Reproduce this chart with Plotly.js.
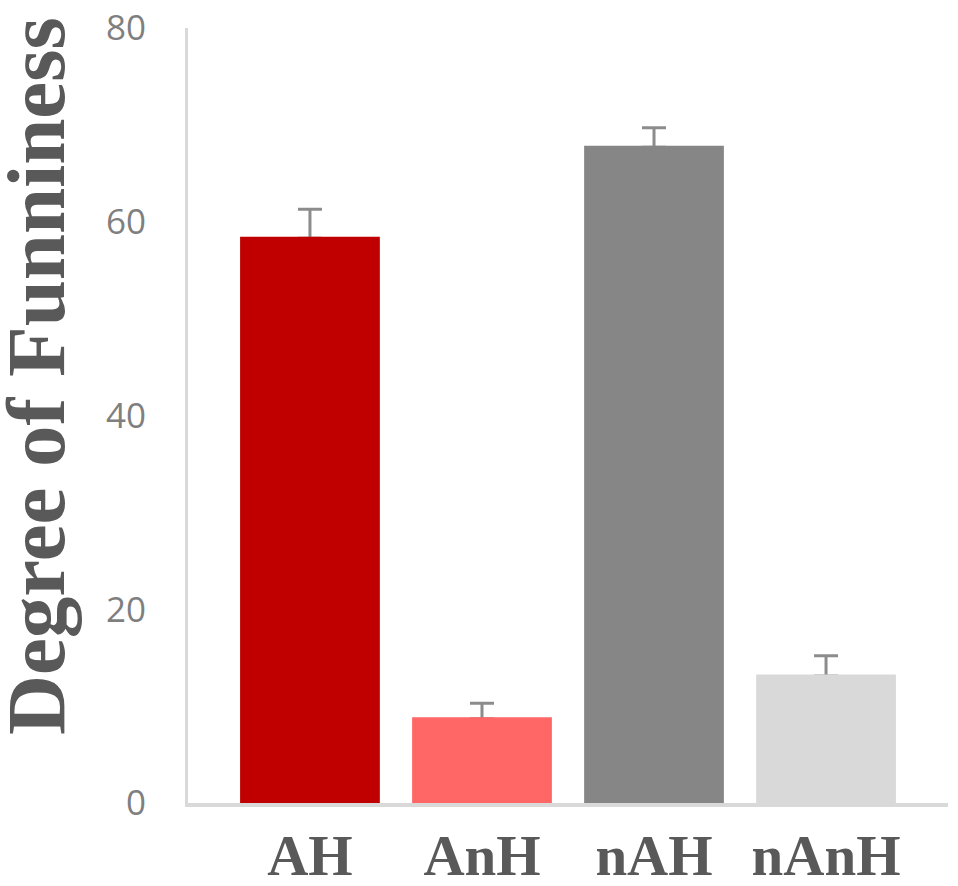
<!DOCTYPE html>
<html>
<head>
<meta charset="utf-8">
<script src="https://cdn.plot.ly/plotly-3.0.1.min.js"></script>
<style>
  html, body { margin: 0; padding: 0; background: #fff; }
  #graph { width: 958px; height: 886px; }
</style>
</head>
<body>
<div id="graph"></div>
<script>
// conditions and their mean funniness ratings
var categories = ['AH', 'AnH', 'nAH', 'nAnH'];
var means = [58.3, 8.7, 67.7, 13.1];
var errors = [3.0, 1.6, 2.0, 2.1];
var barColors = ['#c00000', '#ff6666', '#868686', '#d9d9d9'];
var yTicks = [0, 20, 40, 60, 80];

var serif = 'Times New Roman, Liberation Serif, Times, serif';

function init_plot() {
    // first trace only carries the error bars, the coloured bars sit on top
    // so the lower cap of each whisker is hidden (only the upper one shows)
    const whiskers = {
        x: categories,
        y: means,
        type: 'bar',
        width: 0.795,
        marker: { color: 'rgba(0,0,0,0)', line: { width: 0 } },
        error_y: {
            type: 'data',
            symmetric: false,
            array: errors,
            arrayminus: categories.map(function () { return 0; }),
            color: '#8c8c8c',
            thickness: 3,
            width: 12
        },
        hoverinfo: 'skip'
    };

    // outline in the bar colour covers the half of the lower cap that pokes out
    const bars = {
        x: categories,
        y: means,
        type: 'bar',
        width: 0.795,
        marker: { color: barColors, line: { color: barColors, width: 3 } },
        hoverinfo: 'x+y'
    };

    const layout = {
        width: 958,
        height: 886,
        margin: { l: 188, r: 10, t: 28, b: 83 },
        paper_bgcolor: '#ffffff',
        plot_bgcolor: '#ffffff',
        showlegend: false,
        barmode: 'overlay',
        xaxis: {
            range: [-0.709, 3.709],
            showline: true,
            linecolor: '#d9d9d9',
            linewidth: 4,
            showgrid: false,
            zeroline: false,
            ticks: '',
            ticklabelstandoff: 0,
            tickfont: { family: serif, size: 57, color: '#595959', weight: 'bold' }
        },
        yaxis: {
            range: [0, 80],
            tickvals: yTicks,
            showline: true,
            linecolor: '#d9d9d9',
            linewidth: 3,
            showgrid: false,
            zeroline: false,
            ticks: '',
            ticklabelstandoff: 32,
            tickfont: { family: 'Open Sans, sans-serif', size: 35, color: '#7f7f7f' }
        },
        annotations: [{
            text: '<b>Degree of Funniness</b>',
            textangle: -90,
            xref: 'paper',
            yref: 'paper',
            x: (36 - 188) / 760,
            y: 0.551,
            xanchor: 'center',
            yanchor: 'middle',
            showarrow: false,
            font: { family: serif, size: 83, color: '#595959' }
        }]
    };

    Plotly.newPlot('graph', [whiskers, bars], layout, { displayModeBar: false, responsive: false });
}

window.addEventListener('load', init_plot, false);
</script>
</body>
</html>
